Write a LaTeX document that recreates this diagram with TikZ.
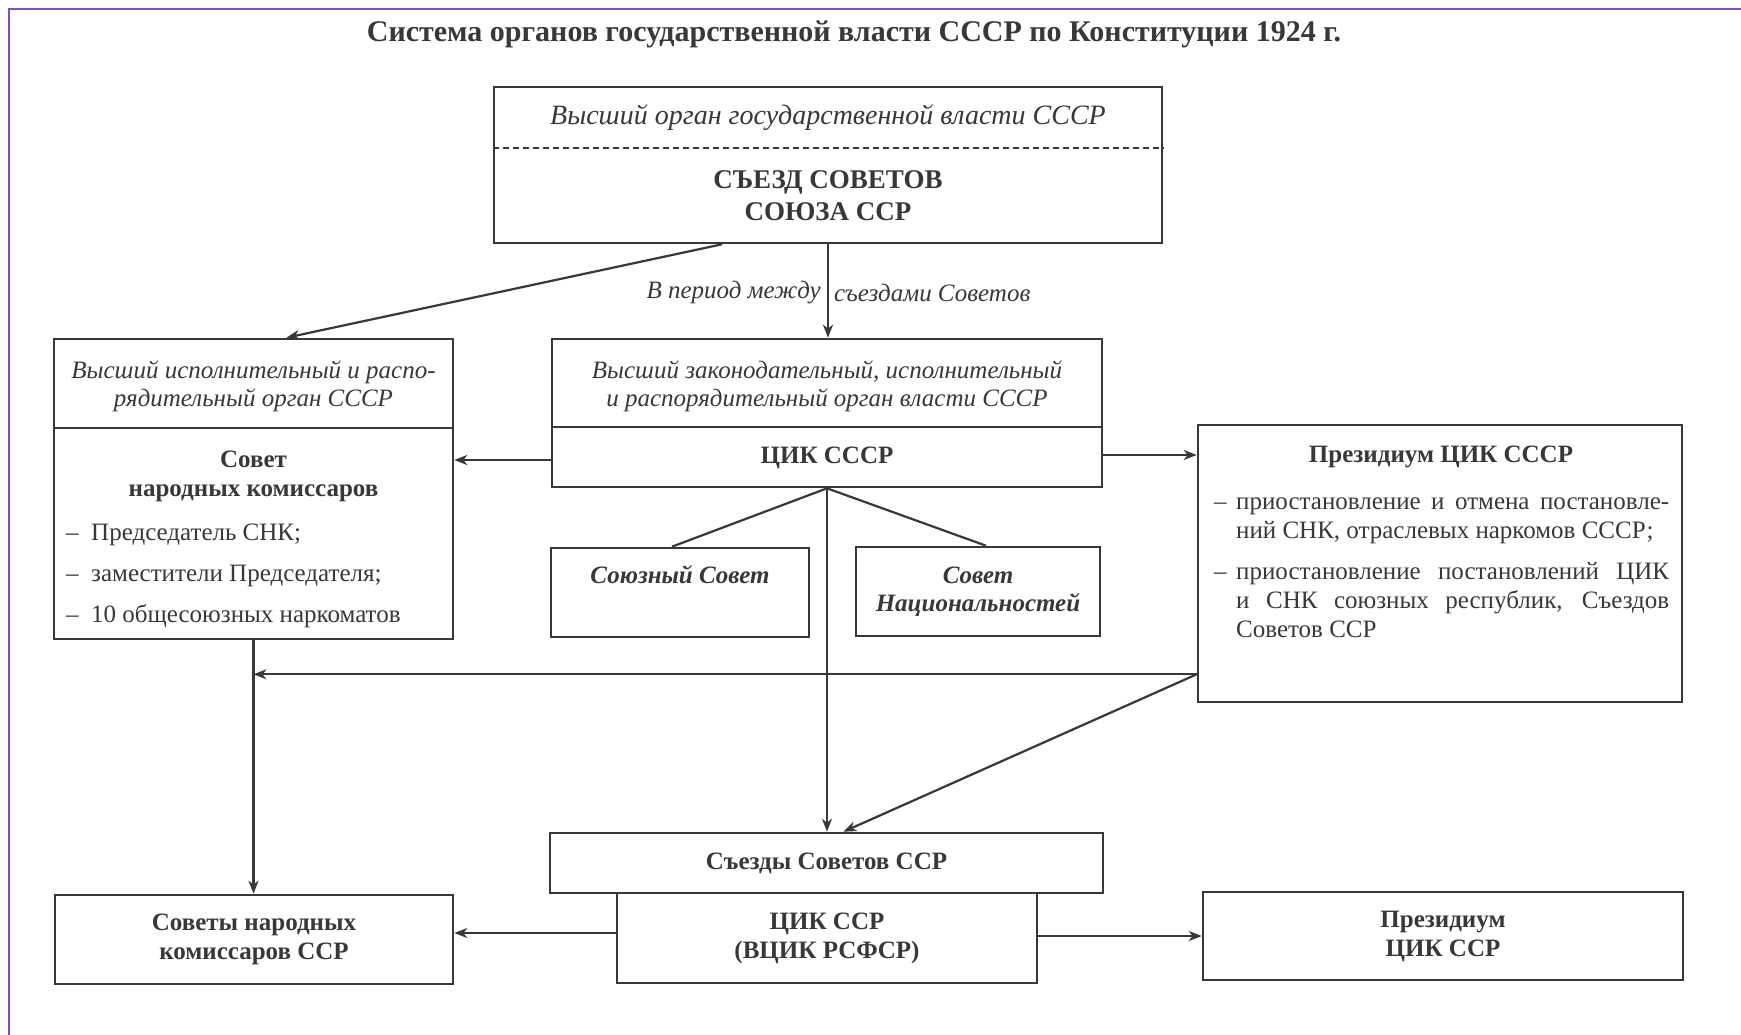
\documentclass[tikz,border=0pt]{standalone}
\usepackage{fontspec}
\setmainfont{Liberation Serif}
\usetikzlibrary{arrows.meta}
\definecolor{ink}{HTML}{383838}
\definecolor{frm}{HTML}{7B4FC0}
\hyphenpenalty=10000
\exhyphenpenalty=10000
\newcommand\fttl{\fontsize{30}{34}\selectfont\bfseries}
\newcommand\fitt{\fontsize{28}{32}\selectfont\itshape}
\newcommand\fit{\fontsize{25}{28}\selectfont\itshape}
\newcommand\fbig{\fontsize{27}{32}\selectfont\bfseries}
\newcommand\fbd{\fontsize{25}{29}\selectfont\bfseries}
\newcommand\frg{\fontsize{25}{29}\selectfont}
\begin{document}
\begin{tikzpicture}[x=1pt,y=-1pt,
  box/.style={draw=ink,line width=2.6pt,rectangle,inner sep=0pt,text=ink,align=center},
  txt/.style={inner sep=0pt,text=ink,align=center},
  conn/.style={draw=ink,line width=2.2pt},
  arr/.style={conn,-{Stealth[length=13pt,width=10pt,inset=4pt]}},
  item/.style={inner sep=0pt,text=ink,anchor=west,text width=455pt,align=justify,font=\frg}
]
\useasboundingbox (0,0) rectangle (1741,1035);
\fill[white] (0,0) rectangle (1741,1035);
\draw[frm,line width=2.6pt] (9,1035) -- (9,9) -- (1741,9);

% title
\node[txt,font=\fttl] (title) at (854,34) {Система органов государственной власти СССР по Конституции 1924 г.};

% top box
\node[box,minimum width=668pt,minimum height=156pt] (congress) at (828,165) {};
\draw[ink,line width=1.6pt,dash pattern=on 6pt off 4pt] (congress.west |- 0,148) -- (congress.east |- 0,148);
\node[txt,font=\fitt] (congressh) at (828,118) {Высший орган государственной власти СССР};
\node[txt,font=\fbig] (congresst) at (828,196) {СЪЕЗД СОВЕТОВ\\СОЮЗА ССР};

% SNK box
\node[box,minimum width=399pt,minimum height=300pt] (snk) at (253.5,489) {};
\draw[ink,line width=2.6pt] (snk.west |- 0,428) -- (snk.east |- 0,428);
\node[txt,font=\fit] (snkh) at (253.5,386) {Высший исполнительный и распо-\\рядительный орган СССР};
\node[txt,font=\fbd] (snkt) at (253.5,476) {Совет\\народных комиссаров};
\node[txt,font=\fontsize{25}{41}\selectfont,align=left,anchor=west] (snkl) at (66,576) {\makebox[25pt][l]{–}Председатель СНК;\\\makebox[25pt][l]{–}заместители Председателя;\\\makebox[25pt][l]{–}10 общесоюзных наркоматов};

% CIK box
\node[box,minimum width=550pt,minimum height=148pt] (cik) at (827,413) {};
\draw[ink,line width=2.6pt] (cik.west |- 0,427) -- (cik.east |- 0,427);
\node[txt,font=\fit] (cikh) at (827,386) {Высший законодательный, исполнительный\\и распорядительный орган власти СССР};
\node[txt,font=\fbd] (cikt) at (827,458) {ЦИК СССР};

% chambers
\node[box,font=\fit\bfseries,minimum width=258pt,minimum height=89pt] (souz) at (680,592.5) {Союзный Совет\\\strut};
\node[box,font=\fit\bfseries,minimum width=244pt,minimum height=89pt] (nats) at (978,591.5) {Совет\\Национальностей};

% Presidium box
\node[box,minimum width=484pt,minimum height=277pt] (prez) at (1440,563.5) {};
\node[txt,font=\fbd] (prezt) at (1441,457) {Президиум ЦИК СССР};
\node[item] (pi1) at (1214,521) {\hangindent=22pt\hangafter=1\noindent\makebox[22pt][l]{–}приостановление и отмена постановле-\linebreak ний СНК, отраслевых наркомов СССР;\par};
\node[item] (pi2) at (1214,600) {\hangindent=22pt\hangafter=1\noindent\makebox[22pt][l]{–}приостановление постановлений ЦИК\linebreak и СНК союзных республик, Съездов\linebreak Советов ССР\par};

% lower boxes
\node[box,font=\fbd,minimum width=553pt,minimum height=60pt] (sezdy) at (826.5,863) {Съезды Советов ССР};
\node[box,font=\fbd,minimum width=420pt,minimum height=90pt] (vcik) at (827,938) {ЦИК ССР\\(ВЦИК РСФСР)};
\node[box,font=\fbd,minimum width=398pt,minimum height=89pt] (sov) at (254,939.5) {Советы народных\\комиссаров ССР};
\node[box,font=\fbd,minimum width=480pt,minimum height=88pt] (prez2) at (1443,936) {Президиум\\ЦИК ССР};

% connectors
\draw[arr] ([xshift=-106pt]congress.south) -- ([xshift=33pt]snk.north);
\draw[arr] (congress.south) -- (congress.south |- cik.north);
\node[txt,font=\frg\itshape,anchor=east] (lbl1) at (821,293) {В период между};
\node[txt,font=\frg\itshape,anchor=west] (lbl2) at (834,293) {съездами Советов};

\draw[arr] ([yshift=-47pt]cik.west) -- ([yshift=-47pt]cik.west -| snk.east);
\draw[arr] ([yshift=-42pt]cik.east) -- ([yshift=-42pt]cik.east -| prez.west);
\draw[conn] (cik.south) -- ([xshift=-8pt]souz.north);
\draw[conn] (cik.south) -- ([xshift=8pt]nats.north);
\draw[arr] (cik.south) -- (cik.south |- sezdy.north);
\draw[arr] (snk.south) -- (snk.south |- sov.north);
\coordinate (pl) at ([yshift=29pt]prez.south west);
\draw[arr] (pl) -- (pl -| snk.south);
\draw[arr] (pl) -- ([xshift=17pt]sezdy.north);
\draw[arr] ([yshift=5pt]vcik.west) -- ([yshift=5pt]vcik.west -| sov.east);
\draw[arr] ([yshift=2pt]vcik.east) -- ([yshift=2pt]vcik.east -| prez2.west);
\end{tikzpicture}
\end{document}
